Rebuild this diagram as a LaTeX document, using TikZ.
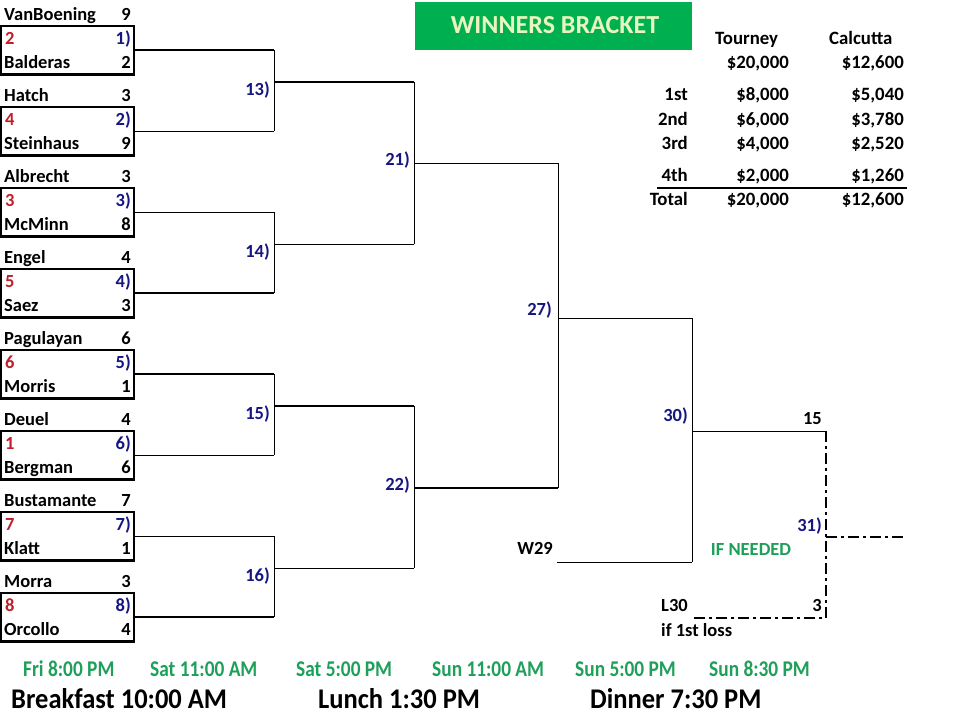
\documentclass[tikz,border=0pt]{standalone}
\usepackage{fontspec}
\setmainfont{Carlito}
\newfontfamily\condfont[FakeStretch=0.86]{Carlito}
\newfontfamily\mealfont[FakeStretch=0.93]{Carlito}
\definecolor{seedred}{RGB}{192,30,40}
\definecolor{numblue}{RGB}{22,22,130}
\definecolor{xlgreen}{RGB}{0,176,80}
\definecolor{timegreen}{RGB}{30,160,90}
\definecolor{titletext}{RGB}{232,245,190}
\begin{document}
\begin{tikzpicture}[x=1pt,y=-1pt,
  txt/.style={inner sep=0pt, font=\fontsize{18.5}{18.5}\selectfont\bfseries},
  player/.style={txt, anchor=base west},
  score/.style={txt, anchor=base east},
  seed/.style={txt, anchor=base west, text=seedred},
  mnum/.style={txt, anchor=base east, text=numblue},
  matchbox/.style={draw, line width=1.3pt, minimum width=133pt, minimum height=48pt, inner sep=0pt},
  thk/.style={line width=2pt},
  thn/.style={line width=1pt},
  dd/.style={line width=2pt, dash pattern=on 11pt off 4pt on 3pt off 4pt},
  timetxt/.style={inner sep=0pt, anchor=base west, text=timegreen, font=\condfont\fontsize{22.5}{22.5}\selectfont\bfseries},
  mealtxt/.style={inner sep=0pt, anchor=base west, font=\mealfont\fontsize{28.5}{28.5}\selectfont\bfseries},
  tabtxt/.style={inner sep=0pt, anchor=base east, font=\fontsize{18.8}{18.8}\selectfont\bfseries}
]
\useasboundingbox (0,0) rectangle (960,718);
\fill[white] (0,0) rectangle (960,718);

% first-round matches
\foreach \k/\ta/\sa/\tb/\sb/\sd in {
  0/VanBoening/9/Balderas/2/2,
  1/Hatch/3/Steinhaus/9/4,
  2/Albrecht/3/McMinn/8/3,
  3/Engel/4/Saez/3/5,
  4/Pagulayan/6/Morris/1/6,
  5/Deuel/4/Bergman/6/1,
  6/Bustamante/7/Klatt/1/7,
  7/Morra/3/Orcollo/4/8}{
  \pgfmathtruncatemacro{\n}{\k+1}
  \node[matchbox] (m\n) at (67.5,{50+81*\k}) {};
  \draw[line width=2pt] (m\n.south west) -- (m\n.south east);
  \node[player] (pa\n) at (4,{20+81*\k}) {\ta};
  \node[score] (sa\n) at (131,{20+81*\k}) {\sa};
  \node[seed] (sd\n) at (5,{44+81*\k}) {\sd};
  \node[mnum] (mn\n) at (131,{44+81*\k}) {\n)};
  \node[player] (pb\n) at (4,{68+81*\k}) {\tb};
  \node[score] (sb\n) at (131,{68+81*\k}) {\sb};
}

% round coordinates
\coordinate (r13) at (274,82);
\coordinate (r14) at (274,244);
\coordinate (r15) at (274,406);
\coordinate (r16) at (274,568);
\coordinate (r21) at (414,163);
\coordinate (r22) at (414,488);
\coordinate (r27) at (558,318);
\coordinate (r30) at (692,431);
\coordinate (w29) at (557,562);
\coordinate (c31a) at (826,431);
\coordinate (c31) at (826,537);
\coordinate (c31b) at (826,618);
\coordinate (l30) at (692,618);
\coordinate (e31) at (906,537);

% round 1 -> 2
\draw[thk] (m1.east) -- (m1.east -| r13);
\draw[thn] (m2.east) -- (m2.east -| r13);
\draw[thn] (m1.east -| r13) -- (m2.east -| r13);
\draw[thn] (m3.east) -- (m3.east -| r14);
\draw[thk] (m4.east) -- (m4.east -| r14);
\draw[thn] (m3.east -| r14) -- (m4.east -| r14);
\draw[thk] (m5.east) -- (m5.east -| r15);
\draw[thn] (m6.east) -- (m6.east -| r15);
\draw[thn] (m5.east -| r15) -- (m6.east -| r15);
\draw[thn] (m7.east) -- (m7.east -| r16);
\draw[thk] (m8.east) -- (m8.east -| r16);
\draw[thn] (m7.east -| r16) -- (m8.east -| r16);
% round 2 -> 3
\draw[thk] (r13) -- (r13 -| r21);
\draw[thn] (r14) -- (r14 -| r21);
\draw[thn] (r13 -| r21) -- (r14 -| r21);
\draw[thk] (r15) -- (r15 -| r22);
\draw[thn] (r16) -- (r16 -| r22);
\draw[thn] (r15 -| r22) -- (r16 -| r22);
% round 3 -> 27
\draw[thn] (r21) -- (r21 -| r27);
\draw[thk] (r22) -- (r22 -| r27);
\draw[thn] (r21 -| r27) -- (r22 -| r27);
% 27 -> 30
\draw[thn] (r27) -- (r27 -| r30);
\draw[thn] (w29) -- (w29 -| r30);
\draw[thn] (r27 -| r30) -- (w29 -| r30);
\draw[thn] (r30) -- (c31a);
% 31 if needed
\draw[dd] (c31a) -- (c31b) -- (l30);
\draw[dd] (c31) -- (e31);

% match labels
\node[mnum] (n13) at (270,95) {13)};
\node[mnum] (n14) at (270,257) {14)};
\node[mnum] (n15) at (270,419) {15)};
\node[mnum] (n16) at (270,581) {16)};
\node[mnum] (n21) at (410,165) {21)};
\node[mnum] (n22) at (410,490) {22)};
\node[mnum] (n27) at (552,315) {27)};
\node[mnum] (n30) at (688,421) {30)};
\node[mnum] (n31) at (822,531) {31)};
\node[score] (s15) at (822,424) {15};
\node[score] (s3) at (822,611) {3};
\node[score] (tw29) at (553,554) {W29};
\node[player] (tl30) at (661,611) {L30};
\node[player] (tloss) at (661,636) {if 1st loss};
\node[txt, anchor=base, text=timegreen] (ifn) at (751,555) {IF NEEDED};

% title
\node[fill=xlgreen, minimum width=277pt, minimum height=48pt, inner sep=0pt] (title) at (553.5,26) {};
\node[inner sep=0pt, anchor=base, text=titletext, font=\fontsize{26}{26}\selectfont\bfseries] (titlet) at (555,33) {WINNERS BRACKET};

% prize table
\node[tabtxt, anchor=base west] (h1) at (715,44) {Tourney};
\node[tabtxt, anchor=base west] (h2) at (829,44) {Calcutta};
\node[tabtxt] (t0a) at (789,68) {\$20,000};
\node[tabtxt] (t0b) at (904,68) {\$12,600};
\node[tabtxt] (l1) at (688,100) {1st};
\node[tabtxt] (t1a) at (789,100) {\$8,000};
\node[tabtxt] (t1b) at (904,100) {\$5,040};
\node[tabtxt] (l2) at (688,125) {2nd};
\node[tabtxt] (t2a) at (789,125) {\$6,000};
\node[tabtxt] (t2b) at (904,125) {\$3,780};
\node[tabtxt] (l3) at (688,149) {3rd};
\node[tabtxt] (t3a) at (789,149) {\$4,000};
\node[tabtxt] (t3b) at (904,149) {\$2,520};
\node[tabtxt] (l4) at (688,181) {4th};
\node[tabtxt] (t4a) at (789,181) {\$2,000};
\node[tabtxt] (t4b) at (904,181) {\$1,260};
\draw[line width=2pt] (657,188) -- (907,188);
\node[tabtxt] (lt) at (688,205) {Total};
\node[tabtxt] (tta) at (789,205) {\$20,000};
\node[tabtxt] (ttb) at (904,205) {\$12,600};

% times
\node[timetxt] (d1) at (23,676) {Fri 8:00 PM};
\node[timetxt] (d2) at (150,676) {Sat 11:00 AM};
\node[timetxt] (d3) at (296,676) {Sat 5:00 PM};
\node[timetxt] (d4) at (432,676) {Sun 11:00 AM};
\node[timetxt] (d5) at (575,676) {Sun 5:00 PM};
\node[timetxt] (d6) at (709,676) {Sun 8:30 PM};
\node[mealtxt] (e1) at (11,708) {Breakfast 10:00 AM};
\node[mealtxt] (e2) at (318,708) {Lunch 1:30 PM};
\node[mealtxt] (e3) at (590,708) {Dinner 7:30 PM};
\end{tikzpicture}
\end{document}
